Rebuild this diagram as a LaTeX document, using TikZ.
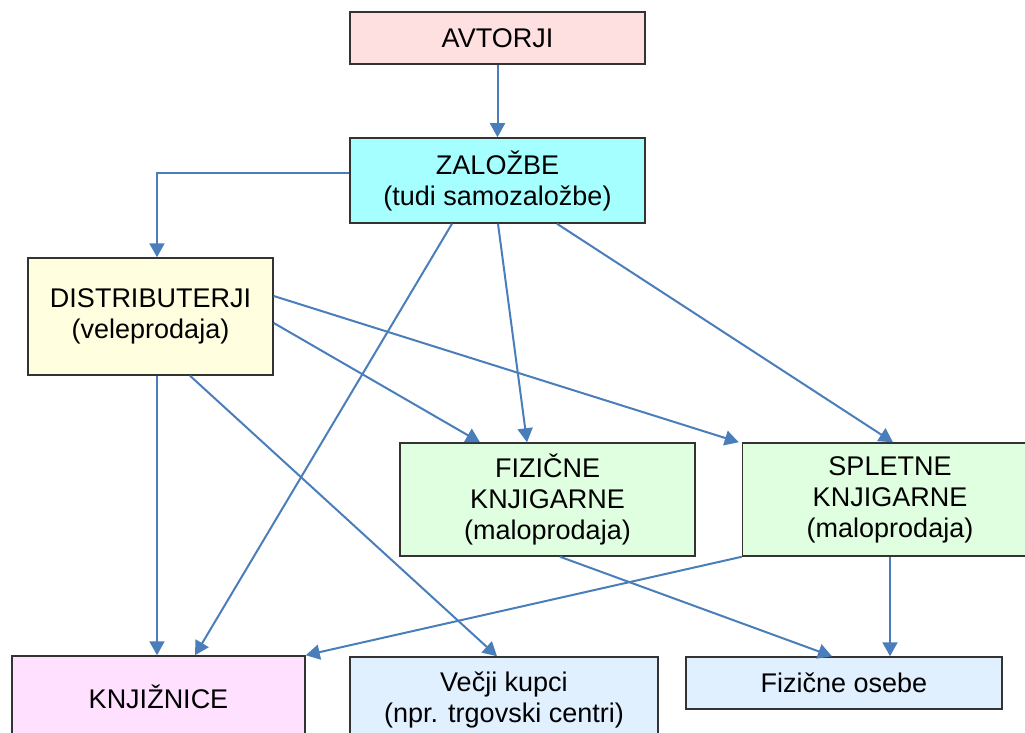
\documentclass[tikz,border=0pt]{standalone}
\usepackage{fontspec}
\setmainfont{Liberation Sans}
\usetikzlibrary{arrows.meta}
\definecolor{arrblue}{RGB}{74,126,187}
\definecolor{avtfill}{RGB}{255,224,224}
\definecolor{zalfill}{RGB}{166,255,255}
\definecolor{disfill}{RGB}{255,255,224}
\definecolor{knjgfill}{RGB}{224,255,224}
\definecolor{knjfill}{RGB}{255,224,255}
\definecolor{kupfill}{RGB}{224,240,255}
\begin{document}
\begin{tikzpicture}[x=1pt,y=-1pt,
  box/.style={draw=black!80, line width=1.5pt, align=center, inner sep=0pt,
    minimum width=295pt, font=\fontsize{27}{31}\selectfont},
  arr/.style={draw=arrblue, line width=2pt, -{Triangle[length=14pt,width=15pt]}}]
  \useasboundingbox (0,0) rectangle (1025,733);
  \clip (0,0) rectangle (1025,733);
  % okvirji
  \node[box, fill=avtfill, minimum height=52pt] (avt) at (497.5,38) {AVTORJI};
  \node[box, fill=zalfill, minimum height=85pt] (zal) at (497.5,180.5) {ZALOŽBE\\(tudi samozaložbe)};
  \node[box, fill=disfill, minimum width=245pt, minimum height=117pt] (dis) at (150.5,316.5) {DISTRIBUTERJI\\(veleprodaja)};
  \node[box, fill=knjgfill, minimum height=113pt] (fiz) at (547.5,499.5) {FIZIČNE\\KNJIGARNE\\(maloprodaja)};
  \node[box, fill=knjgfill, minimum height=113pt] (spl) at (890,499.5) {SPLETNE\\KNJIGARNE\\(maloprodaja)};
  \node[box, fill=knjfill, minimum width=293pt, minimum height=82pt] (knj) at (158.5,697) {KNJIŽNICE};
  \node[box, fill=kupfill, minimum width=308pt, minimum height=86pt] (vec) at (504,700) {Večji kupci\\(npr. trgovski centri)};
  \node[box, fill=kupfill, minimum width=316pt, minimum height=52pt] (fos) at (844,683) {Fizične osebe};
  % puscice
  \draw[arr] (avt) -- (zal);
  \draw[arr] ([yshift=7.5pt]zal.west) -| ([xshift=6.5pt]dis.north);
  \draw[arr] ([xshift=-45.5pt]zal.south) -- ([xshift=36.5pt]knj.north);
  \draw[arr] ([xshift=0.5pt]zal.south) -- ([xshift=-20.5pt]fiz.north);
  \draw[arr] ([xshift=59.5pt]zal.south) -- ([xshift=3pt]spl.north);
  \draw[arr] ([yshift=20.5pt]dis.east) -- ([xshift=-3pt]spl.north west);
  \draw[arr] ([yshift=-6.5pt]dis.east) -- ([xshift=-67.5pt]fiz.north);
  \draw[arr] ([xshift=6.5pt]dis.south) -- ([xshift=-1.5pt]knj.north);
  \draw[arr] ([xshift=39.5pt]dis.south) -- ([xshift=-7pt]vec.north);
  \draw[arr] ([xshift=12.5pt]fiz.south) -- ([xshift=-12pt]fos.north);
  \draw[arr] (spl.south west) -- (knj.north east);
  \draw[arr] (spl.south) -- ([xshift=46pt]fos.north);
\end{tikzpicture}
\end{document}
